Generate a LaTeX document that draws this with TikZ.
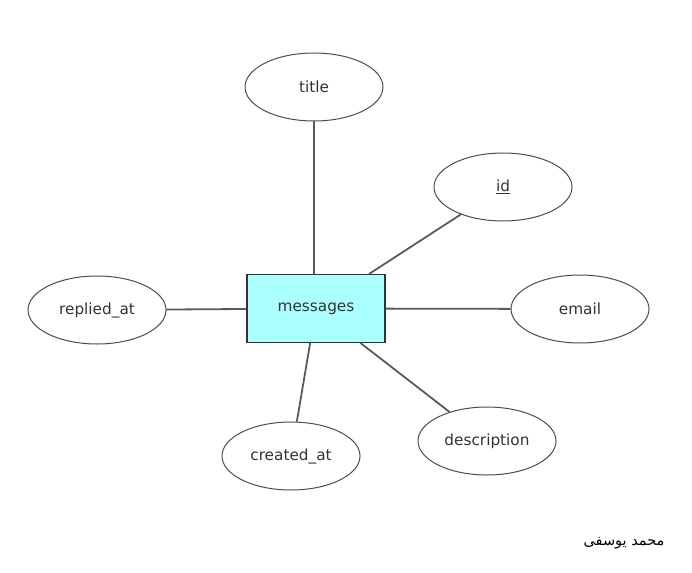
\documentclass[tikz,border=0pt]{standalone}
\usepackage{fontspec}
\setmainfont{DejaVu Sans}
\newfontfamily\arabicfont[Script=Arabic]{DejaVu Sans}
\TeXXeTstate=1
\usetikzlibrary{shapes.geometric}
\definecolor{entfill}{HTML}{AAFFFF}
\definecolor{edgegray}{HTML}{5A5A5A}
\definecolor{txtgray}{HTML}{333333}

\tikzset{
  entity/.style={draw=black!80,fill=entfill,line width=1.1pt,minimum width=138,minimum height=68,inner sep=0pt,text=txtgray},
  attr/.style={ellipse,draw=black!70,line width=1pt,minimum width=138,minimum height=68,inner sep=0pt,text=txtgray},
  link/.style={draw=edgegray,line width=1.8pt}
}

\begin{document}
\begin{tikzpicture}[x=1pt,y=-1pt,font=\fontsize{15.3}{18}\selectfont]
\useasboundingbox (0,0) rectangle (692,572) ;

%entity
\node [entity] (msg) at (316,308.5) {messages} ;

%attributes
\node [attr] (title) at (314,87) {title} ;
\node [attr] (id) at (503,187) {\underline{id}} ;
\node [attr] (email) at (580,309) {email} ;
\node [attr] (replied) at (97,310) {replied\_at} ;
\node [attr] (created) at (291,456) {created\_at} ;
\node [attr] (descr) at (487,441) {description} ;

%links
\draw [link] (msg.north -| title) -- (title) ;
\draw [link] (msg) -- (id) ;
\draw [link] (msg) -- (email) ;
\draw [link] (msg) -- (replied) ;
\draw [link] (msg) -- (created) ;
\draw [link] (msg) -- (descr) ;

%name
\node [font=\arabicfont\fontsize{14.5}{17}\selectfont] (name) at (624,543) {\beginR محمد یوسفی\endR} ;

\end{tikzpicture}
\end{document}
